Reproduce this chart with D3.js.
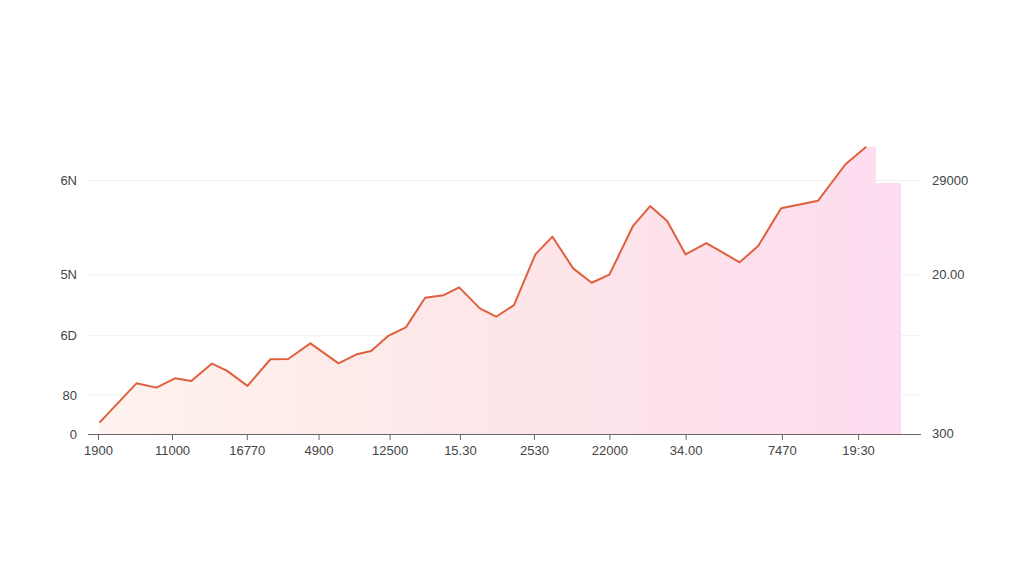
<!DOCTYPE html>
<html>
<head>
<meta charset="utf-8">
<script src="https://cdn.jsdelivr.net/npm/d3@7"></script>
<style>
  html, body { margin: 0; padding: 0; background: #ffffff; }
  svg { display: block; }
</style>
</head>
<body>
<div id="chart"></div>
<script>
// series points (x in arbitrary position units, y in value units)
const xValues = [0.2, 5.2, 7.9, 10.4, 12.6, 15.4, 17.4, 20.2, 23.3, 25.7,
                 28.7, 32.5, 35.0, 36.9, 39.2, 41.6, 44.2, 46.7, 48.8, 51.6,
                 53.8, 56.2, 59.1, 61.4, 64.2, 66.7, 69.1, 72.3, 74.6, 76.9,
                 79.4, 82.2, 86.7, 89.2, 92.3, 97.3, 101.0, 103.8];
const yValues = [4.5, 20.0, 18.3, 22.0, 20.9, 27.8, 25.0, 19.0, 29.5, 29.6,
                 35.8, 27.9, 31.5, 32.8, 38.7, 42.1, 53.8, 54.8, 57.9, 49.6,
                 46.3, 50.9, 70.9, 77.9, 65.4, 59.7, 62.9, 82.2, 90.0, 84.1,
                 70.9, 75.4, 67.8, 74.2, 89.1, 92.1, 106.5, 113.4];
// shaded band continues past the line
const tailX = [105.1, 105.1, 108.5];
const tailY = [113.4, 99.1, 99.1];

const xTickValues = [0, 10, 20.1, 29.8, 39.4, 48.9, 58.9, 69.1, 79.4, 92.4, 102.7];
const xTickLabels = ["1900", "11000", "16770", "4900", "12500", "15.30", "2530", "22000", "34.00", "7470", "19:30"];
const yTickValues = [0, 15.4, 38.8, 62.8, 100];
const yTickLabels = ["0", "80", "6D", "5N", "6N"];
const yRightValues = [0, 62.8, 100];
const yRightLabels = ["300", "20.00", "29000"];

const width = 1024, height = 585;
const fontFamily = "'Liberation Sans', Arial, sans-serif";

const svg = d3.select("#chart").append("svg")
    .attr("width", width)
    .attr("height", height)
    .style("background-color", "#ffffff");

const x = d3.scaleLinear().domain([0, 108.5]).range([98, 901]);
const y = d3.scaleLinear().domain([0, 100]).range([434, 180.7]);

const points = xValues.map((d, i) => ({ x: d, y: yValues[i] }));
const areaPoints = points.concat(tailX.map((d, i) => ({ x: d, y: tailY[i] })));

// gradient fill
const defs = svg.append("defs");
const grad = defs.append("linearGradient")
    .attr("id", "fillGrad")
    .attr("gradientUnits", "userSpaceOnUse")
    .attr("x1", x(0)).attr("x2", x(108.5))
    .attr("y1", 0).attr("y2", 0);
grad.append("stop").attr("offset", "0%").attr("stop-color", "#fef3ee");
grad.append("stop").attr("offset", "50%").attr("stop-color", "#fde6e8");
grad.append("stop").attr("offset", "100%").attr("stop-color", "#fddcf0");

// gridlines
svg.append("g")
    .selectAll("line")
    .data(yTickValues.slice(1))
    .join("line")
    .attr("x1", 88)
    .attr("x2", 921)
    .attr("y1", d => y(d))
    .attr("y2", d => y(d))
    .style("stroke", "#eeeeee")
    .style("stroke-width", 1);

// area
const area = d3.area()
    .x(d => x(d.x))
    .y0(y(0))
    .y1(d => y(d.y));

svg.append("path")
    .datum(areaPoints)
    .attr("d", area)
    .style("fill", "url(#fillGrad)");

// line
const lineGen = d3.line()
    .x(d => x(d.x))
    .y(d => y(d.y));

svg.append("path")
    .datum(points)
    .attr("d", lineGen)
    .style("fill", "none")
    .style("stroke", "#e0603e")
    .style("stroke-width", 2)
    .style("stroke-linejoin", "round");

// x axis
const xAxis = d3.axisBottom(x)
    .tickValues(xTickValues)
    .tickSize(6)
    .tickSizeOuter(0)
    .tickPadding(6)
    .tickFormat((d, i) => xTickLabels[i]);

const gx = svg.append("g")
    .attr("transform", "translate(0," + y(0) + ")")
    .call(xAxis);
gx.select(".domain")
    .attr("d", "M88,0.5H921")
    .style("stroke", "#666666");
gx.selectAll(".tick line").style("stroke", "#666666");
gx.selectAll("text")
    .style("font-family", fontFamily)
    .style("font-size", "13px")
    .style("fill", "#444444");

// left labels
svg.append("g")
    .selectAll("text")
    .data(yTickValues)
    .join("text")
    .attr("x", 77)
    .attr("y", d => y(d))
    .attr("dy", "0.35em")
    .attr("text-anchor", "end")
    .style("font-family", fontFamily)
    .style("font-size", "13px")
    .style("fill", "#444444")
    .text((d, i) => yTickLabels[i]);

// right labels
svg.append("g")
    .selectAll("text")
    .data(yRightValues)
    .join("text")
    .attr("x", 932)
    .attr("y", d => y(d))
    .attr("dy", "0.3em")
    .attr("text-anchor", "start")
    .style("font-family", fontFamily)
    .style("font-size", "13px")
    .style("fill", "#444444")
    .text((d, i) => yRightLabels[i]);
</script>
</body>
</html>
